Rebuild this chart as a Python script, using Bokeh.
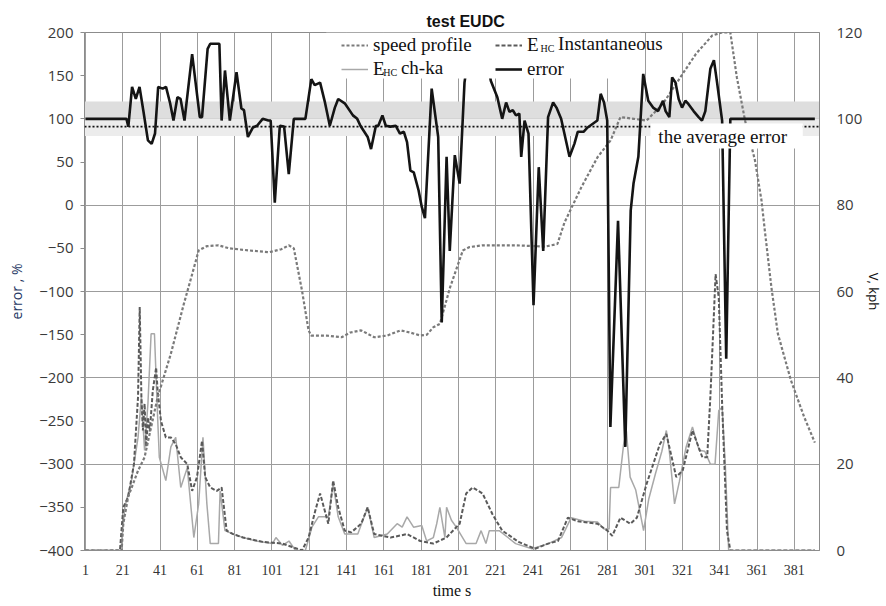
from bokeh.plotting import figure
from bokeh.models import (Range1d, LinearAxis, FixedTicker, BoxAnnotation, Span,
                          Label, Legend, LegendItem)
from bokeh.embed import file_html
from bokeh.resources import INLINE

# ---------------- data ----------------
x_ticks = list(range(1, 382, 20))
err_ticks = list(range(-400, 201, 50))
kph_ticks = list(range(0, 121, 20))

error_t = [1, 23, 24, 26, 28, 30, 32, 34.5, 36.5, 38.3, 40, 42.4, 44.2, 46.4, 48.2, 50.3, 52,
           54.1, 58.2, 62.3, 63.5, 66.5, 67.9, 72.8, 74, 75.8, 78.4, 82, 84.6, 86, 88.1, 90.8,
           93, 96, 99.1, 100.3, 102.5, 105.2, 107.5, 110, 112.7, 118.9, 122.1, 123.9, 126.8,
           129.4, 132, 134.7, 136.5, 140, 144.4, 146.7, 148.4, 152.3, 154.1, 156.7, 158, 160.2,
           162, 164.6, 167.3, 169.6, 171.7, 173.4, 175.2, 177, 179.6, 181.3, 183, 186.6, 190.1,
           192, 194.6, 196.3, 199, 201.6, 204.2, 207, 215, 218.3, 221.8, 224.4, 226.5, 228.3,
           230.1, 231.8, 233.6, 234.6, 236.4, 238.5, 241.2, 244, 246.4, 249, 251.7, 253.5,
           256, 260.5, 263.1, 264.9, 268, 270.2, 275.4, 277.2, 279, 280.7, 282.4, 286.5, 290.4,
           293.3, 294.8, 297.4, 300, 302.7, 305.3, 308, 310.6, 312, 314, 315.5, 317.3, 319,
           320.8, 322.6, 324.3, 327, 329.7, 331.5, 333.3, 336, 337.9, 339.6, 342.3, 344.5,
           346.7, 392]
error_v = [100, 100, 91, 137, 123, 137, 110, 75, 71, 83, 137, 135, 137, 118, 98, 125, 123,
           98, 175, 102, 102, 181, 187, 187, 98, 156, 98, 154, 112, 110, 79, 90,
           92, 100, 98, 98, 3, 92, 91, 36, 100, 100, 146, 139, 142,
           119, 92, 113, 123, 118, 104, 100, 92, 79, 65, 92, 92, 104,
           92, 91, 92, 83, 85, 73, 40, 38, 17, -2, -15, 135, 79,
           -136, 56, -53, 58, 25, 142, 185, 185, 144, 125, 100, 119, 108,
           110, 104, 106, 56, 98, 83, -116, 44, -53, 102, 119, 113,
           100, 56, 71, 85, 85, 90, 98, 129, 119, 98, -257, -18, -280,
           -6, 25, 56, 152, 121, 113, 109, 121, 109, 102, 148, 142, 123,
           113, 121, 117, 109, 102, 98, 109, 158, 168, 142, 98, -178,
           100, 100]

speed_t = [1, 20.4, 21.3, 23.9, 29.2, 32.7, 39.7, 46.8, 53.8, 57.3, 61.7, 66, 72.3, 78.1, 89,
           99.5, 106, 110.1, 112.7, 117.1, 120.6, 122, 130, 138.3, 143, 148.8, 155.8, 162.8,
           169.9, 175, 180.5, 184, 187.5, 191, 196.5, 203.3, 206.9, 213.9, 231.5, 247.3, 254,
           257.8, 266.9, 275.5, 282.5, 287.8, 295, 301.8, 310.6, 319.9, 328.2, 337, 342.3,
           346.7, 350.2, 354.6, 359.9, 363.4, 365.2, 368.7, 372.2, 379.2, 386.3, 392]
speed_kph = [0, 0, 6.2, 12.4, 18.5, 21.6, 35.5, 45.6, 57.2, 62.6, 69.5, 70.5, 70.7, 70, 69.5,
             69.1, 69.8, 70.7, 70, 60.2, 51, 49.8, 49.8, 49.4, 50.5, 51, 49.4, 49.8,
             51, 50.5, 49.8, 50, 51.7, 52.5, 61, 69.5, 70.3, 70.7, 70.7, 70.4, 71,
             76, 84.2, 91.1, 95, 100.4, 100, 99.6, 103.5, 109.6, 115, 119.3, 120,
             120, 109.6, 99.6, 90.4, 81.1, 74.1, 61, 50.2, 39.4, 30.9, 25]

inst_t = [1, 19.5, 21.3, 23.9, 27, 29.2, 30.1, 31, 31.8, 32.7, 33.6, 34.5, 35.5, 37.1, 38.9,
          39.7, 41.5, 44.1, 46.8, 49.4, 52.1, 55.6, 58.2, 60.8, 63.5, 65.2, 67.9, 71.4, 74,
          76.7, 80.2, 85.5, 96, 106.6, 111.9, 117.1, 120.6, 124.2, 126.8, 131.2, 133.8, 136.5,
          140, 143.5, 148.8, 152.3, 155.8, 164.6, 173.4, 180.5, 187.5, 194.5, 201.6, 205.1,
          208.6, 213.9, 219.2, 224.4, 233.2, 242, 249, 254.3, 259.6, 264.9, 275.5, 280.8,
          283.4, 287.8, 293.1, 296.6, 301.8, 308.9, 312.4, 317.7, 321.2, 326.4, 331.7, 334.3,
          336, 338.8, 340.5, 342.3, 344.9, 346.7, 392]
inst_v = [-400, -400, -350, -338, -300, -222, -118, -222, -261, -230, -280, -246, -262, -215,
          -188, -215, -250, -269, -269, -277, -292, -300, -331, -315, -273, -315, -327, -331,
          -327, -377, -381, -385, -390, -392, -396, -400, -385, -354, -334, -369, -319, -350,
          -377, -379, -369, -350, -381, -385, -381, -389, -392, -385, -369, -334,
          -327, -334, -358, -377, -390, -398, -392, -389, -362, -366, -369, -377,
          -383, -362, -369, -362, -323, -277, -265, -315, -307, -261, -292, -292,
          -222, -80, -107, -230, -377, -400, -400]

chka_t = [1, 20, 22.1, 25.7, 29.2, 31, 32.7, 34.5, 36.2, 38, 39.7, 40.6, 44.1, 46.8, 49.4,
          52.1, 55.6, 59.1, 61.7, 64, 66.1, 67.9, 72.3, 73.2, 75.8, 80.2, 85.5, 92.5, 101.3,
          103.1, 106.6, 110.1, 113.6, 118.9, 122.4, 125.9, 131.2, 133.8, 136.5, 140, 147,
          152.3, 155.8, 162.8, 168.1, 170.8, 173.4, 176.9, 181.3, 183.9, 187.5, 189.3, 191,
          193.7, 194.6, 197.2, 199.8, 205.1, 210.4, 213.1, 215.7, 217.5, 222.8, 231.6, 240.4,
          249.2, 256.2, 261.4, 268.5, 275.5, 279, 281.7, 282.5, 286.9, 289.5, 291, 293, 296,
          300.2, 303, 306.7, 310, 312.4, 314, 316.8, 319.4, 323, 326.4, 330, 333, 336, 338.5,
          340.5, 342.3, 344, 345.8, 392]
chka_v = [-400, -400, -350, -319, -269, -222, -284, -230, -149, -149, -246, -292, -319, -280,
          -269, -327, -304, -385, -346, -269, -346, -392, -392, -331, -377, -381, -385, -389,
          -392, -385, -394, -389, -400, -400, -373, -361, -361, -323, -361, -381, -381,
          -350, -385, -381, -369, -373, -361, -373, -371, -389, -385, -369, -350,
          -385, -350, -365, -373, -392, -392, -377, -392, -377, -377, -392, -398,
          -392, -385, -362, -366, -367, -375, -375, -327, -327, -277, -262, -315, -330,
          -377, -340, -310, -285, -261, -285, -346, -320, -280, -257, -284, -285, -300, -300,
          -238, -234, -300, -400, -400]

avg_error = 91

# ---------------- figure ----------------
X0, X1, Y0, Y1 = 0.5, 394.5, -400, 200
FL, FR, FT, FB = 84, 832, 32, 550   # frame edges in page pixels


def tx(px):
    return X0 + (px - FL) / (FR - FL) * (X1 - X0)


def vy(py):
    return Y1 - (py - FT) / (FB - FT) * (Y1 - Y0)


p = figure(width=886, height=606, x_range=Range1d(X0, X1), y_range=Range1d(Y0, Y1),
           output_backend="svg", toolbar_location=None,
           min_border_left=FL, min_border_right=886 - FR, min_border_top=FT,
           min_border_bottom=606 - FB)
p.extra_y_ranges = {"kph": Range1d(0, 120)}
p.outline_line_color = "#8c8c8c"
p.background_fill_color = "white"
p.border_fill_color = "white"

p.title.text = "test EUDC"
p.title.text_font = "Liberation Sans"
p.title.text_font_size = "16px"
p.title.text_font_style = "bold"
p.title.text_color = "#111111"
p.title.align = "left"
p.title.offset = 342
p.title.standoff = 6

# grid
p.xgrid.ticker = FixedTicker(ticks=x_ticks)
p.ygrid.ticker = FixedTicker(ticks=list(range(-400, 201, 100)))
p.xgrid.grid_line_color = "#9c9c9c"
p.ygrid.grid_line_color = "#9c9c9c"

# axes
p.xaxis.ticker = FixedTicker(ticks=x_ticks)
p.xaxis.major_label_text_font = "Liberation Serif"
p.xaxis.major_label_text_font_size = "14px"
p.xaxis.major_label_text_color = "#333333"
p.xaxis.major_tick_line_color = None
p.xaxis.minor_tick_line_color = None
p.xaxis.axis_line_color = "#8c8c8c"
p.xaxis.major_label_standoff = 8
p.xaxis.axis_label = "time s"
p.xaxis.axis_label_text_font = "Liberation Serif"
p.xaxis.axis_label_text_font_size = "16px"
p.xaxis.axis_label_text_font_style = "normal"
p.xaxis.axis_label_text_color = "#111111"
p.xaxis.axis_label_standoff = 4

p.yaxis.ticker = FixedTicker(ticks=err_ticks)
p.yaxis.major_label_text_font = "Open Sans"
p.yaxis.major_label_text_font_size = "15px"
p.yaxis.major_label_text_color = "#3a3a3a"
p.yaxis.major_tick_line_color = "#8c8c8c"
p.yaxis.major_tick_out = 4
p.yaxis.major_tick_in = 0
p.yaxis.minor_tick_line_color = None
p.yaxis.axis_line_color = "#8c8c8c"
p.yaxis.major_label_standoff = 7
p.yaxis.axis_label = "error , %"
p.yaxis.axis_label_text_font = "Open Sans"
p.yaxis.axis_label_text_font_size = "14px"
p.yaxis.axis_label_text_font_style = "normal"
p.yaxis.axis_label_text_color = "#1f3864"
p.yaxis.axis_label_standoff = 10

raxis = LinearAxis(y_range_name="kph", ticker=FixedTicker(ticks=kph_ticks))
raxis.major_label_text_font = "Open Sans"
raxis.major_label_text_font_size = "15px"
raxis.major_label_text_color = "#3a3a3a"
raxis.major_tick_line_color = None
raxis.minor_tick_line_color = None
raxis.axis_line_color = "#8c8c8c"
raxis.major_label_standoff = 11
raxis.axis_label = "V, kph"
raxis.axis_label_text_font = "Open Sans"
raxis.axis_label_text_font_size = "13px"
raxis.axis_label_text_font_style = "normal"
raxis.axis_label_text_color = "#111111"
raxis.axis_label_standoff = 0
p.add_layout(raxis, "right")

# grey band around 100 %
p.add_layout(BoxAnnotation(bottom=100, top=120, fill_color="#dedede", fill_alpha=1,
                           line_color=None, level="underlay"))
p.add_layout(BoxAnnotation(bottom=80, top=100, fill_color="#ececec", fill_alpha=1,
                           line_color=None, level="underlay"))

# series
r_chka = p.line(chka_t, chka_v, line_color="#a8a8a8", line_width=1.5)
r_inst = p.line(inst_t, inst_v, line_color="#5a5a5a", line_width=2, line_dash="4 2")
r_speed = p.line(speed_t, speed_kph, y_range_name="kph", line_color="#7a7a7a",
                 line_width=2.2, line_dash="3 2")
r_err = p.line(error_t, error_v, line_color="#141414", line_width=2.6)

# average error line
p.add_layout(Span(location=avg_error, dimension="width", line_color="#111111",
                  line_width=1.6, line_dash="2 2"))

# white box behind legend
p.add_layout(BoxAnnotation(left=tx(330), right=tx(650), bottom=vy(78), top=Y1,
                           fill_color="white", fill_alpha=1, line_color=None))
# white box behind "the average error"
p.add_layout(BoxAnnotation(left=tx(660), right=tx(815), bottom=vy(148), top=vy(123),
                           fill_color="white", fill_alpha=1, line_color=None))
p.add_layout(Label(x=tx(668), y=vy(136), text="the average error", text_font="Liberation Serif",
                   text_font_size="19px", text_color="#111111", text_baseline="middle"))

# legend
legend = Legend(items=[LegendItem(label="speed profile", renderers=[r_speed]),
                       LegendItem(label="E", renderers=[r_inst]),
                       LegendItem(label="E", renderers=[r_chka]),
                       LegendItem(label="error", renderers=[r_err])],
                orientation="horizontal", ncols=2, nrows=2,
                location=(257, 470), glyph_width=27, glyph_height=18,
                label_height=18, label_width=120, label_standoff=5, spacing=2, padding=2,
                margin=0, background_fill_alpha=0, border_line_color=None,
                label_text_font="Liberation Serif", label_text_font_size="19px",
                label_text_color="#111111")
p.add_layout(legend)

sub_font = "10px"
p.add_layout(Label(x=tx(548), y=vy(48), text="HC", text_font="Liberation Serif",
                   text_font_size=sub_font, text_color="#111111", text_baseline="middle"))
p.add_layout(Label(x=tx(566), y=vy(43), text="Instantaneous", text_font="Liberation Serif",
                   text_font_size="19px", text_color="#111111", text_baseline="middle"))
p.add_layout(Label(x=tx(388), y=vy(72), text="HC", text_font="Liberation Serif",
                   text_font_size=sub_font, text_color="#111111", text_baseline="middle"))
p.add_layout(Label(x=tx(406), y=vy(67), text="ch-ka", text_font="Liberation Serif",
                   text_font_size="19px", text_color="#111111", text_baseline="middle"))

open("out.html", "w").write(file_html(p, INLINE))
